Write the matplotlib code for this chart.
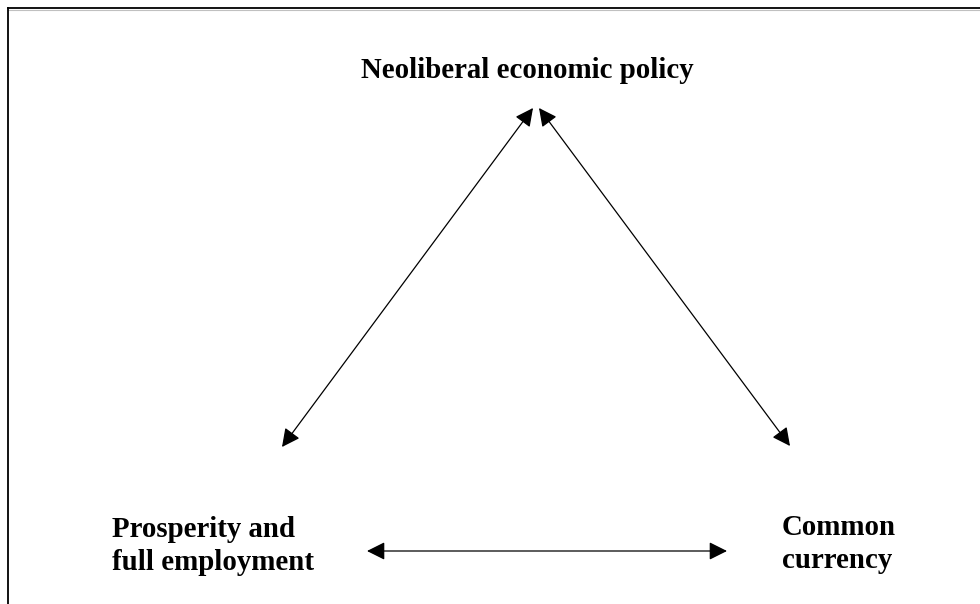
import matplotlib.pyplot as plt
from matplotlib.patches import FancyArrowPatch

# node labels and where they sit (pixel coords, y down)
labels = ["Neoliberal economic policy", "Prosperity and\nfull employment", "Common\ncurrency"]
label_x = [527, 112, 782]
label_y = [78, 570, 568]
label_ha = ["center", "left", "left"]

# double-headed arrows: (x0, y0) -> (x1, y1)
arrow_x0 = [282, 790, 367]
arrow_y0 = [447, 446, 551]
arrow_x1 = [533, 539, 727]
arrow_y1 = [108, 108, 551]

plt.rcParams['font.family'] = ['Liberation Serif', 'DejaVu Serif']

fig = plt.figure(figsize=(9.8, 6.04), dpi=100)
ax = fig.add_axes([0, 0, 1, 1])
ax.set_xlim(0, 980)
ax.set_ylim(604, 0)
ax.axis("off")

# frame (top and left edges only visible)
ax.plot([7.5, 980], [9.6, 9.6], color="#c0c0c0", lw=0.8)
ax.plot([7.5, 980], [8, 8], color="black", lw=1.3)
ax.plot([7.5, 7.5], [8, 604], color="black", lw=1.3)

for i in range(len(labels)):
    ax.text(label_x[i], label_y[i], labels[i], ha=label_ha[i], va="baseline",
            fontsize=20.8, fontweight="bold", linespacing=1.28)

for i in range(len(arrow_x0)):
    a = FancyArrowPatch((arrow_x0[i], arrow_y0[i]), (arrow_x1[i], arrow_y1[i]),
                        arrowstyle="<|-|>,head_length=11,head_width=5.5",
                        color="black", lw=0.9, shrinkA=0, shrinkB=0,
                        mutation_scale=1)
    ax.add_patch(a)

plt.savefig("out.png", dpi=100)
